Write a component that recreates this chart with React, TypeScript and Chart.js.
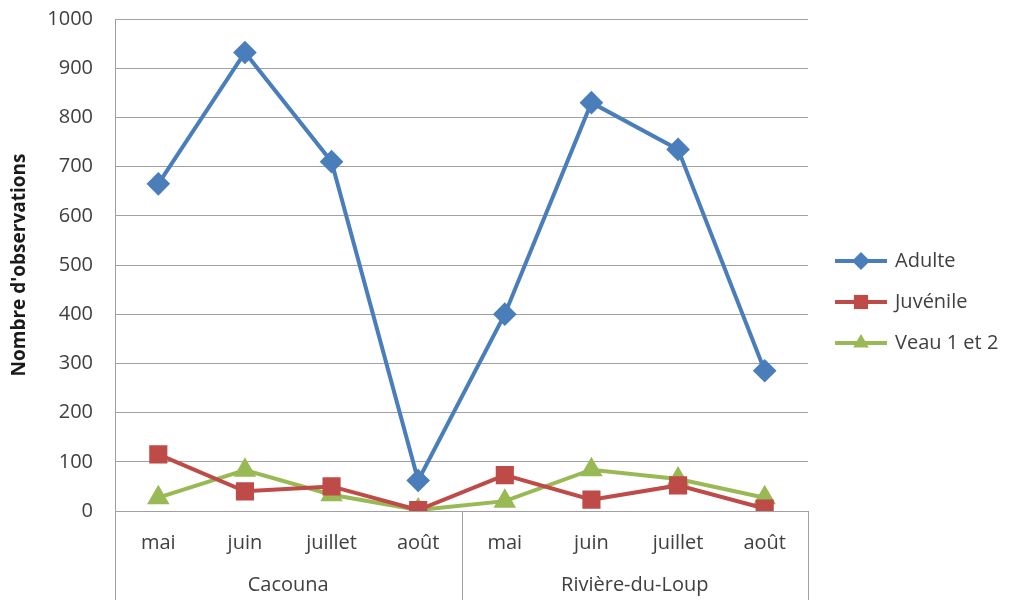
import React, { useEffect, useRef } from "react";
import { Chart, registerables } from "chart.js";

Chart.register(...registerables);

const months = ["mai", "juin", "juillet", "août", "mai", "juin", "juillet", "août"];
const groups = ["Cacouna", "Rivière-du-Loup"];
const adulte = [665, 932, 710, 62, 400, 830, 735, 285];
const juvenile = [115, 40, 50, 2, 73, 23, 52, 5];
const veau = [27, 83, 33, 2, 20, 84, 65, 27];
const seriesNames = ["Adulte", "Juvénile", "Veau 1 et 2"];
const yTicks = [0, 100, 200, 300, 400, 500, 600, 700, 800, 900, 1000];

const COLORS = ["#4A7EBB", "#BE4B48", "#98B954"];
const STYLES = ["rectRot", "rect", "triangle"];
const RADII = [9, 10, 9];
const FONT = "'Open Sans', 'Noto Sans', sans-serif";
const GRID = "#A0A0A0";

const extrasPlugin = {
  id: "extras",
  afterDraw(chart: any) {
    const ctx = chart.ctx;
    const x = chart.scales.x;
    const area = chart.chartArea;
    const bottom = chart.height;
    ctx.save();
    ctx.strokeStyle = GRID;
    ctx.lineWidth = 1;
    const sep = (x.getPixelForValue(3) + x.getPixelForValue(4)) / 2;
    const lines = [area.left, sep, area.right];
    lines.forEach((px: number) => {
      const p = Math.round(px) + 0.5;
      ctx.beginPath();
      ctx.moveTo(p, area.bottom);
      ctx.lineTo(p, bottom);
      ctx.stroke();
    });
    // group labels
    ctx.fillStyle = "#404040";
    ctx.font = `20px ${FONT}`;
    ctx.textAlign = "center";
    ctx.textBaseline = "middle";
    ctx.fillText(groups[0], (area.left + sep) / 2, 585);
    ctx.fillText(groups[1], (sep + area.right) / 2, 585);

    // legend
    const ys = [261, 302, 343];
    chart.data.datasets.forEach((ds: any, i: number) => {
      const y = ys[i];
      ctx.strokeStyle = ds.borderColor;
      ctx.lineWidth = 4;
      ctx.beginPath();
      ctx.moveTo(835, y);
      ctx.lineTo(887, y);
      ctx.stroke();
      ctx.fillStyle = ds.borderColor;
      const r = RADII[i];
      ctx.beginPath();
      if (STYLES[i] === "rectRot") {
        ctx.moveTo(861, y - r);
        ctx.lineTo(861 + r, y);
        ctx.lineTo(861, y + r);
        ctx.lineTo(861 - r, y);
      } else if (STYLES[i] === "rect") {
        const s = r * Math.SQRT1_2;
        ctx.rect(861 - s, y - s, 2 * s, 2 * s);
      } else {
        const h = Math.sqrt(3) / 2;
        ctx.moveTo(861, y - r);
        ctx.lineTo(861 + r * h, y + r / 2);
        ctx.lineTo(861 - r * h, y + r / 2);
      }
      ctx.closePath();
      ctx.fill();
      ctx.fillStyle = "#404040";
      ctx.font = `20px ${FONT}`;
      ctx.textAlign = "left";
      ctx.textBaseline = "middle";
      ctx.fillText(ds.label, 895, y);
    });
    ctx.restore();
  },
};

export default function App() {
  const ref = useRef<HTMLCanvasElement>(null);
  useEffect(() => {
    document.body.style.margin = "0";
    const data = [adulte, juvenile, veau];
    const chart = new Chart(ref.current as HTMLCanvasElement, {
      type: "line",
      data: {
        labels: months,
        datasets: data.map((d, i) => ({
          label: seriesNames[i],
          data: d,
          borderColor: COLORS[i],
          backgroundColor: COLORS[i],
          pointBackgroundColor: COLORS[i],
          pointBorderColor: COLORS[i],
          pointStyle: STYLES[i] as any,
          pointRadius: RADII[i],
          borderWidth: 4,
          tension: 0,
        })),
      },
      options: {
        animation: false,
        responsive: false,
        layout: { padding: { top: 19, right: 205, left: 0, bottom: 0 } },
        plugins: { legend: { display: false }, tooltip: { enabled: false } },
        scales: {
          x: {
            type: "category",
            offset: true,
            grid: { display: false, drawTicks: false },
            border: { display: true, color: GRID, width: 1 },
            ticks: {
              color: "#404040",
              font: { family: FONT, size: 20 },
              padding: 20,
              maxRotation: 0,
              autoSkip: false,
            },
            afterFit(scale: any) {
              scale.height = 89;
              scale.paddingLeft = 0;
              scale.paddingRight = 0;
            },
          },
          y: {
            min: 0,
            max: 1000,
            afterBuildTicks(scale: any) {
              scale.ticks = yTicks.map((v) => ({ value: v }));
            },
            grid: { color: GRID, drawTicks: false, lineWidth: 1 },
            border: { display: true, color: GRID, width: 1 },
            ticks: {
              color: "#404040",
              font: { family: FONT, size: 20 },
              padding: 22,
              callback: (v: any) => String(v),
            },
            title: {
              display: true,
              text: "Nombre d'observations",
              color: "#1a1a1a",
              font: { family: FONT, size: 19, weight: "bold" },
              padding: { top: 8, bottom: 4 },
            },
            afterFit(scale: any) {
              scale.width = 115;
              scale.paddingTop = 0;
              scale.paddingBottom = 0;
            },
          },
        },
      },
      plugins: [extrasPlugin],
    });
    return () => chart.destroy();
  }, []);
  return (
    <div style={{ position: "absolute", left: 0, top: 0, width: 1013, height: 600, background: "#fff" }}>
      <canvas ref={ref} width={1013} height={600} style={{ width: 1013, height: 600 }} />
    </div>
  );
}
